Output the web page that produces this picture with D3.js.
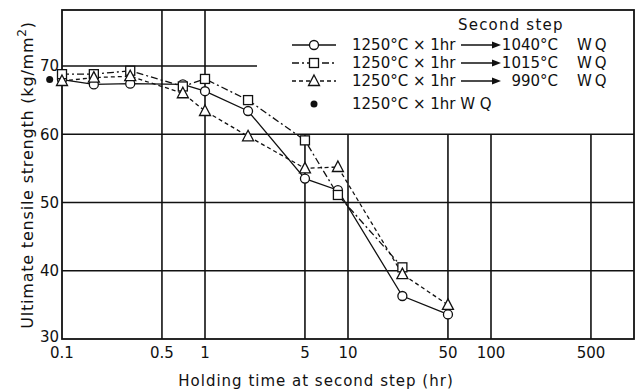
<!DOCTYPE html>
<html lang="en">
<head>
<meta charset="UTF-8">
<title>Ultimate tensile strength vs holding time</title>
<script src="https://d3js.org/d3.v7.min.js"></script>
<style>
    body { margin: 0; background: #fff; }
    text { font-family: "DejaVu Sans", sans-serif; fill: #111; }
    .grid { stroke: #111; stroke-width: 1.6px; }
    .series { fill: none; stroke: #111; stroke-width: 1.3px; }
    .mark { fill: #fff; stroke: #111; stroke-width: 1.3px; }
</style>
</head>
<body>
<script>
    // holding time at second step (hr)
    const times1040 = [0.1, 0.167, 0.3, 0.7, 1, 2, 5, 8.5, 24, 50];
    const uts1040 = [68.0, 67.3, 67.4, 67.3, 66.3, 63.4, 53.5, 51.8, 36.3, 33.6];
    const times1015 = [0.1, 0.167, 0.3, 0.7, 1, 2, 5, 8.5, 24];
    const uts1015 = [68.8, 68.8, 69.3, 67.0, 68.1, 65.0, 59.1, 51.1, 40.5];
    const times990 = [0.1, 0.167, 0.3, 0.7, 1, 2, 5, 8.5, 24, 50];
    const uts990 = [67.8, 68.3, 68.5, 66.0, 63.4, 59.7, 55.0, 55.2, 39.5, 35.0];
    // first step only, plotted just left of the axis
    const timesWQ = [0.082];
    const utsWQ = [68.0];

    const xTicks = [0.1, 0.5, 1, 5, 10, 50, 100, 500];
    const xGrid = [0.5, 1, 5, 10, 50, 100, 500];
    const yTicks = [30, 40, 50, 60, 70];
    const legendTemps = ["1040°C", "1015°C", "990°C"];

    const width = 639, height = 389;
    const x = d3.scaleLog().domain([0.1, 1000]).range([62, 634]);
    const y = d3.scaleLinear().domain([30, 78.2]).range([339, 10]);

    const svg = d3.select("body").append("svg")
        .attr("width", width)
        .attr("height", height);

    // legend box area sits in the upper right: grid stops there
    const boxLeft = 257, boxBottom = y(60);

    const grid = svg.append("g");
    yTicks.filter(v => v > 30).forEach(function (v) {
        grid.append("line").attr("class", "grid")
            .attr("x1", x(0.1)).attr("x2", v >= 70 ? boxLeft : x(1000))
            .attr("y1", y(v)).attr("y2", y(v));
    });
    xGrid.forEach(function (v) {
        grid.append("line").attr("class", "grid")
            .attr("x1", x(v)).attr("x2", x(v))
            .attr("y1", v >= 5 ? boxBottom : y(78.2)).attr("y2", y(30));
    });
    // frame
    grid.append("rect")
        .attr("x", x(0.1)).attr("y", y(78.2))
        .attr("width", x(1000) - x(0.1)).attr("height", y(30) - y(78.2))
        .attr("fill", "none").attr("stroke", "#111").attr("stroke-width", 1.8);

    // tick labels
    svg.append("g").selectAll("text").data(yTicks).join("text")
        .attr("x", 59).attr("y", d => y(d) + (d === 30 ? 3 : 5.5))
        .attr("text-anchor", "end").style("font-size", "15px")
        .text(d => d);
    svg.append("g").selectAll("text").data(xTicks).join("text")
        .attr("x", d => x(d)).attr("y", 358)
        .attr("text-anchor", "middle").style("font-size", "15px")
        .text(d => d);

    // axis titles
    svg.append("text")
        .attr("x", 316).attr("y", 386)
        .attr("text-anchor", "middle").style("font-size", "15px")
        .style("letter-spacing", "1px")
        .text("Holding time at second step (hr)");
    const yt = svg.append("text")
        .attr("transform", "translate(33,175) rotate(-90)")
        .attr("text-anchor", "middle").style("font-size", "16px")
        .style("letter-spacing", "0.8px");
    yt.append("tspan").text("Ultimate tensile strength (kg/mm");
    yt.append("tspan").attr("baseline-shift", "super").style("font-size", "12px").text("2");
    yt.append("tspan").text(")");

    const line = d3.line().x(d => x(d[0])).y(d => y(d[1]));
    const pairs = (t, v) => t.map((d, i) => [d, v[i]]);

    const series = [
        {data: pairs(times1040, uts1040), dash: null, shape: "circle"},
        {data: pairs(times1015, uts1015), dash: "7,3,2,3", shape: "square"},
        {data: pairs(times990, uts990), dash: "4,3", shape: "triangle"}
    ];

    function marker(sel, shape) {
        if (shape === "circle") {
            sel.append("circle").attr("class", "mark").attr("r", 4.5);
        } else if (shape === "square") {
            sel.append("rect").attr("class", "mark")
                .attr("x", -4.5).attr("y", -4.5).attr("width", 9).attr("height", 9);
        } else {
            sel.append("path").attr("class", "mark").attr("d", "M0,-6L5.5,4.5L-5.5,4.5Z");
        }
    }

    series.forEach(function (s) {
        svg.append("path").attr("class", "series")
            .attr("d", line(s.data))
            .attr("stroke-dasharray", s.dash);
    });
    series.forEach(function (s) {
        svg.append("g").selectAll("g").data(s.data).join("g")
            .attr("transform", d => "translate(" + x(d[0]) + "," + y(d[1]) + ")")
            .each(function () { marker(d3.select(this), s.shape); });
    });
    svg.append("g").selectAll("circle").data(pairs(timesWQ, utsWQ)).join("circle")
        .attr("cx", d => x(d[0])).attr("cy", d => y(d[1]))
        .attr("r", 3.5).attr("fill", "#111");

    // legend
    const lg = svg.append("g").style("font-size", "15px");
    lg.append("text").attr("x", 458).attr("y", 30)
        .style("letter-spacing", "1.2px").text("Second step");
    const rowY = [45, 63, 81];
    series.forEach(function (s, i) {
        const r = lg.append("g").attr("transform", "translate(0," + rowY[i] + ")");
        r.append("line").attr("class", "series")
            .attr("x1", 292).attr("x2", 336).attr("y1", 0).attr("y2", 0)
            .attr("stroke-dasharray", s.dash);
        r.append("g").attr("transform", "translate(314,0)").call(g => marker(g, s.shape));
        r.append("text").attr("x", 352).attr("dy", "0.36em").text("1250°C × 1hr");
        r.append("line").attr("x1", 461).attr("x2", 496).attr("y1", 0).attr("y2", 0)
            .attr("stroke", "#111").attr("stroke-width", 1.3);
        r.append("path").attr("d", "M492,-3.5L501,0L492,3.5Z").attr("fill", "#111");
        r.append("text").attr("x", 558).attr("dy", "0.36em")
            .attr("text-anchor", "end").text(legendTemps[i]);
        r.append("text").attr("x", 577).attr("dy", "0.36em")
            .style("letter-spacing", "3px").text("WQ");
    });
    const r4 = lg.append("g").attr("transform", "translate(0,104)");
    r4.append("circle").attr("cx", 314).attr("r", 3.5).attr("fill", "#111");
    r4.append("text").attr("x", 352).attr("dy", "0.36em").text("1250°C × 1hr W Q");
</script>
</body>
</html>
